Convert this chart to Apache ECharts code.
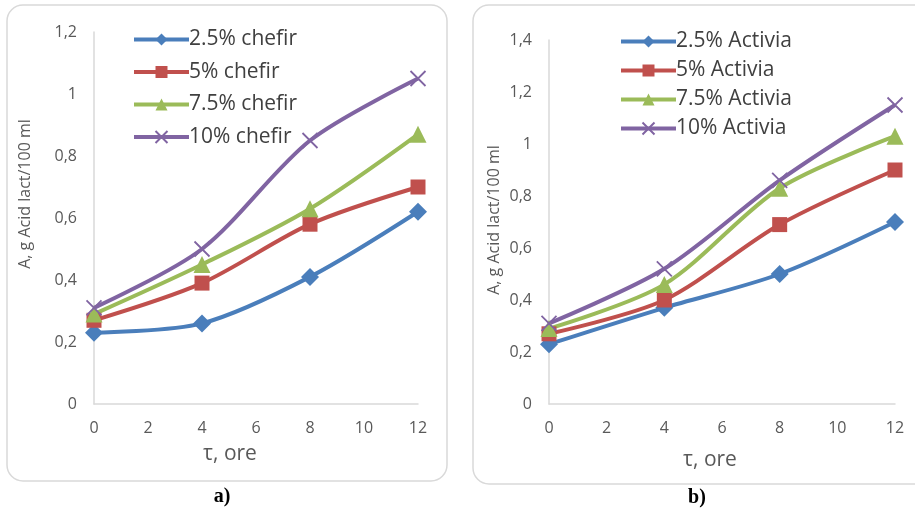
<!DOCTYPE html>
<html>
<head>
<meta charset="utf-8">
<script src="https://cdn.jsdelivr.net/npm/echarts@6/dist/echarts.min.js"></script>
<style>
  html, body { margin: 0; padding: 0; background: #fff; }
  #chart { width: 915px; height: 513px; }
</style>
</head>
<body>
<div id="chart"></div>
<script>
var hours = [0, 4, 8, 12];

var chefirNames = ['2.5% chefir', '5% chefir', '7.5% chefir', '10% chefir'];
var chefir25 = [0.23, 0.26, 0.41, 0.62];
var chefir5 = [0.27, 0.39, 0.58, 0.70];
var chefir75 = [0.29, 0.45, 0.63, 0.87];
var chefir10 = [0.31, 0.50, 0.85, 1.05];

var activiaNames = ['2.5% Activia', '5% Activia', '7.5% Activia', '10% Activia'];
var activia25 = [0.23, 0.37, 0.50, 0.70];
var activia5 = [0.27, 0.40, 0.69, 0.90];
var activia75 = [0.29, 0.46, 0.83, 1.03];
var activia10 = [0.31, 0.52, 0.86, 1.15];

var colors = ['#4a7ebb', '#c0504d', '#9bbb59', '#8064a2'];
var symbols = ['diamond', 'rect', 'triangle', 'path://M0,0L10,10M10,0L0,10'];
var symbolSizes = [18, 15, 17, 15];
var font = '"Open Sans", sans-serif';

function pairs(ys) {
  return hours.map(function (h, i) { return [h, ys[i]]; });
}

function makeSeries(names, lists, idx) {
  return names.map(function (name, i) {
    var isCross = i === 3;
    return {
      name: name,
      type: 'line',
      xAxisIndex: idx,
      yAxisIndex: idx,
      smooth: 0.3,
      data: pairs(lists[i]),
      symbol: symbols[i],
      symbolSize: symbolSizes[i],
      lineStyle: { color: colors[i], width: 4 },
      itemStyle: isCross
        ? { color: 'rgba(0,0,0,0)', borderColor: colors[i], borderWidth: 1.8 }
        : { color: colors[i] },
      emphasis: { disabled: true }
    };
  });
}

function commaLabel(v) {
  return String(Math.round(v * 10) / 10).replace('.', ',');
}

function xAxis(idx) {
  return {
    type: 'value', gridIndex: idx, min: 0, max: 12, interval: 2,
    axisLine: { lineStyle: { color: '#d9d9d9', width: 1.5 } },
    axisTick: { show: false },
    splitLine: { show: false },
    axisLabel: { color: '#595959', fontSize: 16, fontFamily: font, margin: 16 }
  };
}

function yAxis(idx, max) {
  return {
    type: 'value', gridIndex: idx, min: 0, max: max, interval: 0.2,
    axisLine: { show: true, lineStyle: { color: '#d9d9d9', width: 1.5 } },
    axisTick: { show: false },
    splitLine: { show: false },
    axisLabel: { color: '#595959', fontSize: 16, fontFamily: font, margin: 17, formatter: commaLabel }
  };
}

function legend(names, left, top, gap) {
  return {
    data: names,
    orient: 'vertical',
    left: left,
    top: top,
    itemWidth: 55,
    itemHeight: 15,
    itemGap: gap,
    lineStyle: { width: 4 },
    textStyle: { color: '#404040', fontSize: 21, lineHeight: 19, fontFamily: font, padding: [0, 0, 0, -5] },
    selectedMode: false
  };
}

var option = {
  animation: false,
  grid: [
    { left: 94, top: 32, width: 324, height: 372 },
    { left: 549, top: 40, width: 346, height: 364 }
  ],
  xAxis: [xAxis(0), xAxis(1)],
  yAxis: [yAxis(0, 1.2), yAxis(1, 1.4)],
  legend: [
    legend(chefirNames, 127, 24, 11.5),
    legend(activiaNames, 614, 26, 8)
  ],
  series: makeSeries(chefirNames, [chefir25, chefir5, chefir75, chefir10], 0)
    .concat(makeSeries(activiaNames, [activia25, activia5, activia75, activia10], 1)),
  graphic: [
    { type: 'rect', shape: { x: 7, y: 5, width: 440, height: 476, r: 16 },
      style: { fill: 'none', stroke: '#d9d9d9', lineWidth: 1.5 }, z: -1 },
    { type: 'rect', shape: { x: 473, y: 5, width: 460, height: 479, r: 16 },
      style: { fill: 'none', stroke: '#d9d9d9', lineWidth: 1.5 }, z: -1 },
    { type: 'text', x: 230, y: 454, style: { text: 'τ, ore', fill: '#595959', font: '21px ' + font, align: 'center', verticalAlign: 'middle' } },
    { type: 'text', x: 710, y: 460, style: { text: 'τ, ore', fill: '#595959', font: '21px ' + font, align: 'center', verticalAlign: 'middle' } },
    { type: 'text', x: 25, y: 194, rotation: Math.PI / 2, style: { text: 'A, g Acid lact/100 ml', fill: '#595959', font: '16px ' + font, align: 'center', verticalAlign: 'middle' } },
    { type: 'text', x: 494, y: 220, rotation: Math.PI / 2, style: { text: 'A, g Acid lact/100 ml', fill: '#595959', font: '16px ' + font, align: 'center', verticalAlign: 'middle' } },
    { type: 'text', x: 222, y: 497, style: { text: 'a)', fill: '#000', font: 'bold 20px "Liberation Serif", serif', align: 'center', verticalAlign: 'middle' } },
    { type: 'text', x: 697, y: 498, style: { text: 'b)', fill: '#000', font: 'bold 20px "Liberation Serif", serif', align: 'center', verticalAlign: 'middle' } }
  ]
};

echarts.init(document.getElementById('chart')).setOption(option);
</script>
</body>
</html>
